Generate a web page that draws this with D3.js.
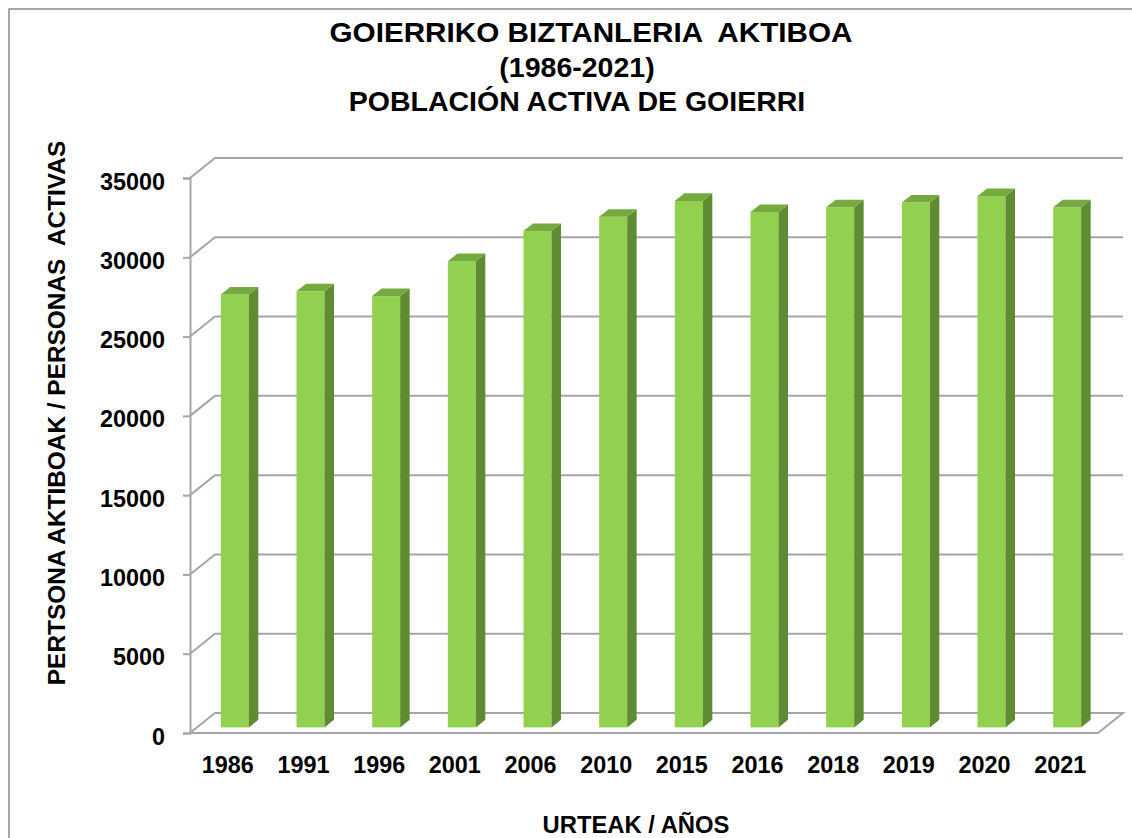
<!DOCTYPE html>
<html>
<head>
<meta charset="utf-8">
<script src="https://cdn.jsdelivr.net/npm/d3@7"></script>
<style>
  body { margin: 0; background: #fff; }
  text { font-family: "Liberation Sans", Arial, sans-serif; font-weight: bold; fill: #000; }
</style>
</head>
<body>
<div class="container"></div>
<script>
//=================================================
// Data
//=================================================
const years = ["1986", "1991", "1996", "2001", "2006", "2010", "2015", "2016", "2018", "2019", "2020", "2021"];
const activePop = [27300, 27500, 27200, 29400, 31300, 32200, 33200, 32500, 32800, 33100, 33500, 32800];
const yTicks = [0, 5000, 10000, 15000, 20000, 25000, 30000, 35000];
const titleLines = ["GOIERRIKO BIZTANLERIA  AKTIBOA", "(1986-2021)", "POBLACIÓN ACTIVA DE GOIERRI"];

//=================================================
// Dimensions (front plane + depth of the 3D box)
//=================================================
const W = 1132,
  H = 838,
  plotLeft = 190,
  plotRight = 1098,
  plotBottom = 733,
  plotTop = 178,
  depthX = 25,
  depthY = -20,
  barT0 = 0.28,  // where the bar front sits in the depth
  barT1 = 0.66;

const svg = d3.select(".container").
append("svg").
attr("width", W).
attr("height", H);

// chart frame
svg.append("rect").
attr("x", 9).attr("y", 9).
attr("width", 1200).attr("height", 900).
attr("fill", "none").
attr("stroke", "#8c8c8c").
attr("stroke-width", 1.5);

//=================================================
// Scales
//=================================================
const xScale = d3.scaleBand().domain(years).range([plotLeft, plotRight]).paddingInner(0.63).paddingOuter(0.315);
const yScale = d3.scaleLinear().domain([0, 35000]).range([plotBottom, plotTop]);

//=================================================
// Back wall gridlines
//=================================================
svg.append("g").
selectAll("path").
data(yTicks.filter(d => d > 0)).
enter().
append("path").
attr("d", d => {
  const y = yScale(d);
  return "M" + plotLeft + "," + y + "L" + (plotLeft + depthX) + "," + (y + depthY) + "L" + (plotRight + depthX) + "," + (y + depthY);
}).
attr("fill", "none").
attr("stroke", "#a6a6a6").
attr("stroke-width", 2);

// floor
svg.append("path").
attr("d", "M" + plotLeft + "," + plotBottom + "L" + plotRight + "," + plotBottom +
  "L" + (plotRight + depthX) + "," + (plotBottom + depthY) +
  "L" + (plotLeft + depthX) + "," + (plotBottom + depthY) + "Z").
attr("fill", "none").
attr("stroke", "#a6a6a6").
attr("stroke-width", 2);

//=================================================
// Bars (front, side, top)
//=================================================
const ox = barT0 * depthX, oy = barT0 * depthY;
const dx = (barT1 - barT0) * depthX, dy = (barT1 - barT0) * depthY;
const bw = xScale.bandwidth();

const bars = svg.append("g").
selectAll("g").
data(years.map((y, i) => ({ year: y, value: activePop[i] }))).
enter().
append("g");

bars.append("rect").
attr("x", d => xScale(d.year) + ox).
attr("y", d => yScale(d.value) + oy).
attr("width", bw).
attr("height", d => yScale(0) - yScale(d.value)).
attr("fill", "#92d050");

bars.append("path").
attr("d", d => {
  const xr = xScale(d.year) + ox + bw, yt = yScale(d.value) + oy, yb = yScale(0) + oy;
  return "M" + xr + "," + yb + "L" + xr + "," + yt + "L" + (xr + dx) + "," + (yt + dy) + "L" + (xr + dx) + "," + (yb + dy) + "Z";
}).
attr("fill", "#5f8b33");

bars.append("path").
attr("d", d => {
  const xl = xScale(d.year) + ox, xr = xl + bw, yt = yScale(d.value) + oy;
  return "M" + xl + "," + yt + "L" + xr + "," + yt + "L" + (xr + dx) + "," + (yt + dy) + "L" + (xl + dx) + "," + (yt + dy) + "Z";
}).
attr("fill", "#74aa3e");

//=================================================
// Axes
//=================================================
const yAxis = d3.axisLeft(yScale).tickValues(yTicks).tickSize(7).tickPadding(18).tickFormat(d3.format("d"));
const gy = svg.append("g").
attr("transform", "translate(" + plotLeft + ",0)").
call(yAxis);
gy.select(".domain").attr("stroke", "#a6a6a6").attr("stroke-width", 2);
gy.selectAll(".tick line").attr("stroke", "#a6a6a6").attr("stroke-width", 2);
gy.selectAll(".tick text").
attr("dy", "11px").
style("font-size", "23.4px").
style("font-weight", "bold").
style("font-family", "'Liberation Sans', Arial, sans-serif");

const xAxis = d3.axisBottom(xScale).tickSize(0);
const gx = svg.append("g").
attr("transform", "translate(0," + plotBottom + ")").
call(xAxis);
gx.select(".domain").remove();
gx.selectAll(".tick text").
attr("y", 40).
attr("dy", 0).
style("font-size", "23.4px").
style("font-weight", "bold").
style("font-family", "'Liberation Sans', Arial, sans-serif");

//=================================================
// Titles
//=================================================
const titleX = [591, 577, 577];
svg.append("g").
selectAll("text").
data(titleLines).
enter().
append("text").
attr("x", (d, i) => titleX[i]).
attr("y", (d, i) => 42 + i * 34.5).
attr("text-anchor", "middle").
attr("textLength", (d, i) => i === 0 ? 523 : null).
attr("lengthAdjust", "spacingAndGlyphs").
style("white-space", "pre").
style("font-size", "28.5px").
text(d => d);

svg.append("text").
attr("transform", "translate(65,413) rotate(-90)").
attr("text-anchor", "middle").
style("white-space", "pre").
style("font-size", "24.4px").
text("PERTSONA AKTIBOAK / PERSONAS  ACTIVAS");

svg.append("text").
attr("x", 636).
attr("y", 833).
attr("text-anchor", "middle").
style("font-size", "23.8px").
text("URTEAK / AÑOS");
</script>
</body>
</html>
